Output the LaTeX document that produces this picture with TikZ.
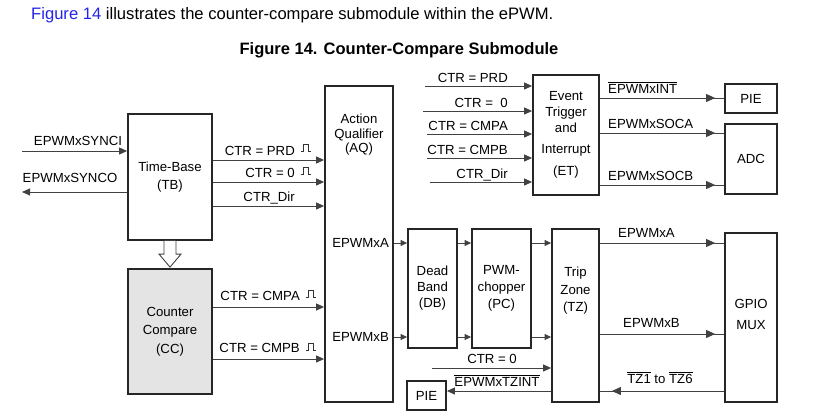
\documentclass[tikz,border=0pt]{standalone}
\usepackage{fontspec}
\setmainfont{Liberation Sans}
\usepackage{xcolor}
\usepackage{tikz}
\usetikzlibrary{arrows.meta, positioning, calc, decorations.markings}

\definecolor{linkblue}{RGB}{35,35,235}
\definecolor{ccgray}{RGB}{228,228,228}
\definecolor{wire}{RGB}{65,65,65}

\tikzset{
  blk/.style={draw=black!85, line width=1.8pt, inner sep=0pt, align=center,
    font=\fontsize{13.2}{17.5}\selectfont},
  sig/.style={draw=wire, line width=0.9pt, -{Triangle[length=8pt,width=7pt]}},
  sigshort/.style={draw=wire, line width=0.9pt, -{Triangle[length=6.5pt,width=6pt]}},
  sigmid/.style={draw=wire, line width=0.9pt, postaction={decorate},
    decoration={markings, mark=at position -#1 with {\arrow{Triangle[length=9pt,width=8pt]}}}},
  sigmid/.default=9pt,
  lbl/.style={inner sep=0pt, font=\fontsize{13.2}{15}\selectfont},
  pics/pulse/.style={code={
    \draw[line width=0.7pt, black!80] (-5,3.5) -- (-2.5,3.5) -- (-2.5,-3.5) -- (2.5,-3.5) -- (2.5,3.5) -- (5,3.5);}}
}

\begin{document}
\begin{tikzpicture}[x=1pt, y=-1pt]
\useasboundingbox (0,0) rectangle (821,416);

% Heading
\node[anchor=west, inner sep=0pt, font=\fontsize{16.6}{19}\selectfont] (intro) at (31,15)
  {\textcolor{linkblue}{Figure 14} illustrates the counter-compare submodule within the ePWM.};
\node[inner sep=0pt, font=\bfseries\fontsize{16.5}{19}\selectfont] (title) at (399,50)
  {Figure 14. Counter-Compare Submodule};

% Blocks
\node[blk, minimum width=84pt, minimum height=126pt] (tb) at (170,177) {Time-Base\\(TB)};
\node[blk, fill=ccgray, minimum width=84pt, minimum height=125pt, font=\fontsize{13.2}{18.5}\selectfont] (cc) at (170,331.5) {Counter\\Compare\\(CC)};
\node[blk, minimum width=68pt, minimum height=316pt] (aq) at (359,244) {};
\node[blk, minimum width=66pt, minimum height=120pt, font=\fontsize{13.2}{15.5}\selectfont] (et) at (566,135)
  {Event\\Trigger\\[0.5pt]and\\[5.5pt]Interrupt\\[6.5pt](ET)};
\node[blk, minimum width=52pt, minimum height=29pt] (pietop) at (751,98.5) {PIE};
\node[blk, minimum width=52pt, minimum height=70pt] (adc) at (751,159) {ADC};
\node[blk, minimum width=49pt, minimum height=119pt, font=\fontsize{13.2}{16}\selectfont] (db) at (432.5,288.5) {Dead\\Band\\(DB)};
\node[blk, minimum width=59pt, minimum height=119pt, font=\fontsize{13.2}{17}\selectfont] (pc) at (501.5,288.5) {PWM-\\chopper\\(PC)};
\node[blk, minimum width=47pt, minimum height=173pt] (tz) at (575.5,315.5) {};
\node[blk, minimum width=52pt, minimum height=169pt] (gpio) at (751,317.5) {};
\node[blk, minimum width=39pt, minimum height=29pt] (piebot) at (426.5,395.5) {PIE};

% Texts inside the tall blocks
\node[lbl, align=center, font=\fontsize{13.2}{14.5}\selectfont] (aqtext) at (359,135) {Action\\Qualifier\\(AQ)};
\node[lbl, anchor=east] (aqa) at (389,243) {EPWMxA};
\node[lbl, anchor=east] (aqb) at (389,337) {EPWMxB};
\node[lbl, align=center, font=\fontsize{13.2}{17.5}\selectfont] (tztext) at (575.5,291) {Trip\\Zone\\(TZ)};
\node[lbl, align=center, font=\fontsize{13.2}{21}\selectfont] (gpiotext) at (751,314) {GPIO\\MUX};

% TB -> CC
\draw[line width=0.9pt, draw=wire, fill=white]
  ($(tb.south)+(-6,0)$) -- ($(cc.north)+(-6,-14)$) -- ($(cc.north)+(-11,-14)$) -- ($(cc.north)+(0,-1)$)
  -- ($(cc.north)+(11,-14)$) -- ($(cc.north)+(6,-14)$) -- ($(tb.south)+(6,0)$);

% Sync in / out
\coordinate (synci) at (22,151);
\coordinate (synco) at (22,192);
\draw[sig] (synci) -- (synci -| tb.west);
\draw[sig] (synco -| tb.west) -- (synco);
\node[lbl] (syncilbl) at (78,141) {EPWMxSYNCI};
\node[lbl] (syncolbl) at (70,178) {EPWMxSYNCO};

% TB -> AQ
\foreach \y/\t in {160/{CTR = PRD}, 182/{CTR = 0}, 206/{CTR\_Dir}} {
  \draw[sig] (tb.east |- 0,\y) -- (aq.west |- 0,\y);
  \node[lbl, anchor=base east] at (295,\y-5) {\t};
}
\pic at (306,148) {pulse};
\pic at (306,171) {pulse};

% CC -> AQ
\foreach \y/\t in {307/{CTR = CMPA}, 359/{CTR = CMPB}} {
  \draw[sig] (cc.east |- 0,\y) -- (aq.west |- 0,\y);
  \node[lbl, anchor=base east] at (300,\y-7) {\t};
}
\pic at (311,294) {pulse};
\pic at (311,347) {pulse};

% Inputs of ET
\foreach \y/\x/\t in {86/425/{CTR = PRD}, 111/423/{CTR =\ \ 0}, 134/427/{CTR = CMPA}, 158/427/{CTR = CMPB}, 182/430/{CTR\_Dir}} {
  \coordinate (etin\y) at (\x,\y);
  \draw[sig] (etin\y) -- (etin\y -| et.west);
  \node[lbl, anchor=base east] at (508,\y-4) {\t};
}

% Outputs of ET
\draw[sigmid] (et.east |- 0,98) -- (pietop.west |- 0,98);
\draw[sigmid] (et.east |- 0,133) -- (adc.west |- 0,133);
\draw[sigmid] (et.east |- 0,185) -- (adc.west |- 0,185);
\node[lbl, anchor=base west] (intlbl) at (608,93) {$\overline{\mbox{EPWMxINT}}$};
\node[lbl, anchor=base west] (socalbl) at (608,128) {EPWMxSOCA};
\node[lbl, anchor=base west] (socblbl) at (608,180) {EPWMxSOCB};

% AQ -> DB -> PC -> TZ
\foreach \y in {243, 337} {
  \draw[sigshort] (aq.east |- 0,\y) -- (db.west |- 0,\y);
  \draw[sigshort] (db.east |- 0,\y) -- (pc.west |- 0,\y);
  \draw[sigshort] (pc.east |- 0,\y) -- (tz.west |- 0,\y);
}

% TZ <-> GPIO
\draw[sigmid] (tz.east |- 0,243) -- (gpio.west |- 0,243);
\draw[sigmid] (tz.east |- 0,334) -- (gpio.west |- 0,334);
\node[lbl, anchor=base west] (tzalbl) at (618,237) {EPWMxA};
\node[lbl, anchor=base west] (tzblbl) at (623,327) {EPWMxB};
\draw[sigmid=12pt] (gpio.west |- 0,391) -- (tz.east |- 0,391);
\node[lbl, anchor=base] (tzinlbl) at (660,383) {$\overline{\mbox{TZ1}}$ to $\overline{\mbox{TZ6}}$};

% TZ inputs / interrupt
\coordinate (tzctr) at (432,368);
\draw[sig] (tzctr) -- (tzctr -| tz.west);
\node[lbl, anchor=base] (tzctrlbl) at (492,363.5) {CTR = 0};
\draw[sig] (tz.west |- 0,391) -- (piebot.east |- 0,391);
\node[lbl, anchor=base] (tzintlbl) at (497,386) {$\overline{\mbox{EPWMxTZINT}}$};
\end{tikzpicture}
\end{document}
